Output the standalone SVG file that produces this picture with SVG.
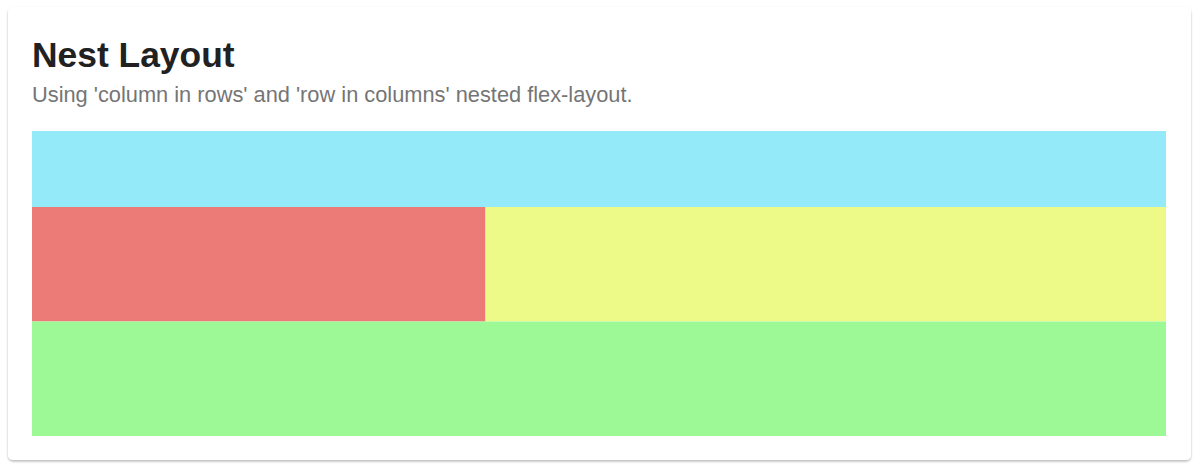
<svg xmlns="http://www.w3.org/2000/svg" width="1200" height="468" viewBox="0 0 1200 468">
<defs>
<filter id="sh" x="-5%" y="-5%" width="110%" height="115%">
<feDropShadow dx="0" dy="1.5" stdDeviation="1.2" flood-color="#000" flood-opacity="0.28"/>
</filter>
<style>
.title{font-family:"Liberation Sans",Arial,sans-serif;font-weight:bold;font-size:35.4px;fill:#212121}
.sub{font-family:"Liberation Sans",Arial,sans-serif;font-size:21.8px;fill:#757575}
</style>
</defs>
<rect width="1200" height="468" fill="#ffffff"/>
<g id="card">
<rect x="8" y="7" width="1183" height="453" rx="5" fill="#ffffff" filter="url(#sh)"/>
<text class="title" x="32" y="67">Nest Layout</text>
<text class="sub" x="32" y="102">Using 'column in rows' and 'row in columns' nested flex-layout.</text>
</g>
<g id="top"><rect x="32" y="131" width="1134" height="76" fill="#95EAF9"/></g>
<g id="left"><rect x="32" y="207" width="453.5" height="114.5" fill="#EC7B77"/></g>
<g id="right"><rect x="485.5" y="207" width="680.5" height="114.5" fill="#EDFA88"/></g>
<g id="bottom"><rect x="32" y="321.5" width="1134" height="114.5" fill="#9CF995"/></g>
</svg>
